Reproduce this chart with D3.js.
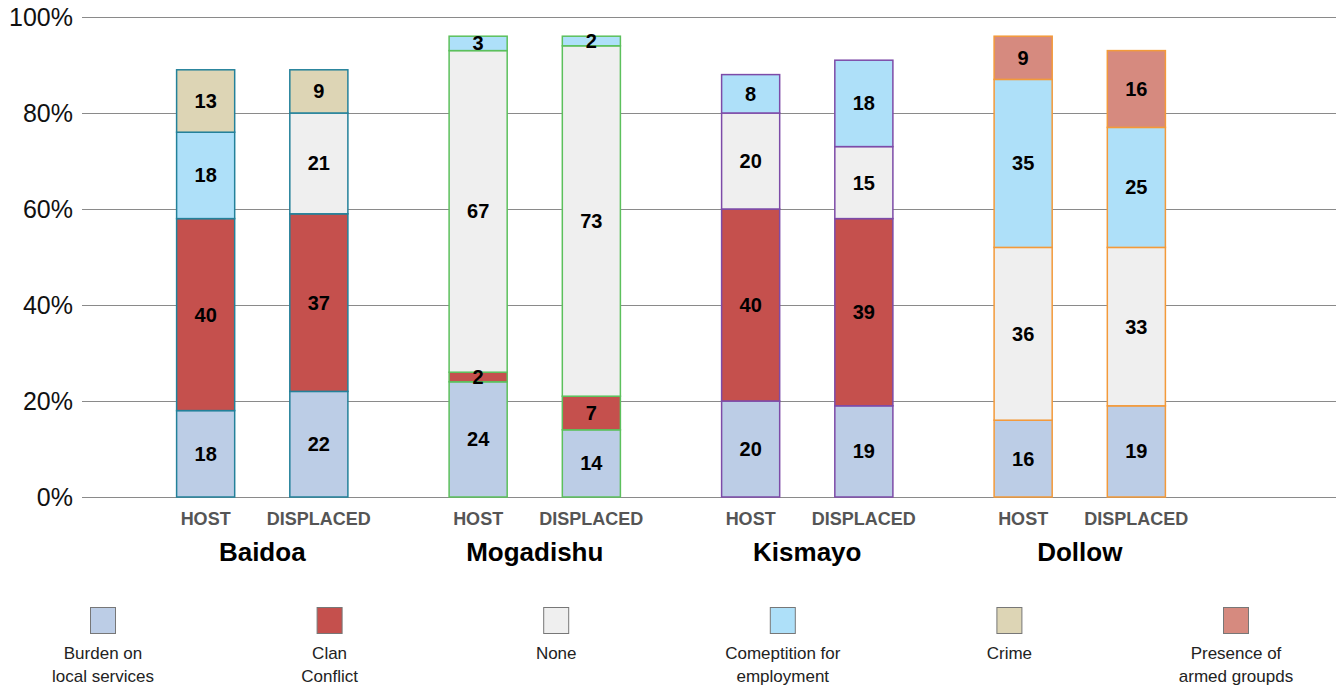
<!DOCTYPE html>
<html>
<head>
<meta charset="utf-8">
<script src="https://cdn.jsdelivr.net/npm/d3@7"></script>
<style>
body { margin: 0; background: #fff; }
text { font-family: "Liberation Sans", Arial, sans-serif; }
</style>
</head>
<body>
<div id="chart"></div>
<script>
const width = 1336;
const height = 686;

const cities = ["Baidoa", "Mogadishu", "Kismayo", "Dollow"];
const groups = ["HOST", "DISPLACED"];
const causes = ["burden", "clan", "none", "competition", "crime", "armed"];
const legendLabels = [
    ["Burden on", "local services"],
    ["Clan", "Conflict"],
    ["None"],
    ["Comeptition for", "employment"],
    ["Crime"],
    ["Presence of", "armed groupds"]
];
const yTicks = [0, 20, 40, 60, 80, 100];

// one value per bar: Baidoa host, Baidoa displaced, Mogadishu host, ...
const burden      = [18, 22, 24, 14, 20, 19, 16, 19];
const clan        = [40, 37,  2,  7, 40, 39,  0,  0];
const none        = [ 0, 21, 67, 73, 20, 15, 36, 33];
const competition = [18,  0,  3,  2,  8, 18, 35, 25];
const crime       = [13,  9,  0,  0,  0,  0,  0,  0];
const armed       = [ 0,  0,  0,  0,  0,  0,  9, 16];

const causeColor = {
    burden: "#bccde6",
    clan: "#c5504d",
    none: "#efefef",
    competition: "#aee0f9",
    crime: "#ddd5b5",
    armed: "#d68a7f"
};
const cityStroke = {
    Baidoa: "#23819a",
    Mogadishu: "#5cc05c",
    Kismayo: "#7d4ba8",
    Dollow: "#f39a3a"
};

const rows = [];
cities.forEach((c, i) => {
    groups.forEach((g, j) => {
        const k = i * 2 + j;
        rows.push({
            city: c, group: g,
            burden: burden[k], clan: clan[k], none: none[k],
            competition: competition[k], crime: crime[k], armed: armed[k]
        });
    });
});

const svg = d3.select("#chart")
    .append("svg")
    .attr("width", width)
    .attr("height", height);

const x0 = d3.scaleBand()
    .domain(cities)
    .range([126, 1216]);

const x1 = d3.scaleBand()
    .domain(groups)
    .range([0, x0.bandwidth()])
    .paddingInner(0.487)
    .paddingOuter(0.447);

const y = d3.scaleLinear()
    .domain([0, 100])
    .range([497, 17]);

// gridlines + tick labels
const axis = svg.append("g")
    .attr("transform", "translate(82,0)")
    .call(d3.axisLeft(y)
        .tickValues(yTicks)
        .tickSize(-(width - 82))
        .tickPadding(9)
        .tickFormat(d => d + "%"));
axis.select(".domain").remove();
axis.selectAll(".tick line").attr("stroke", "#8a8a8a").attr("stroke-width", 1.2);
axis.selectAll(".tick text")
    .attr("font-size", "25px")
    .attr("fill", "#111")
    .style("font-family", "'Liberation Sans', Arial, sans-serif");

const series = d3.stack().keys(causes)(rows);

const layer = svg.append("g");
series.forEach(s => {
    const key = s.key;
    s.forEach((seg, i) => {
        const r = rows[i];
        if (seg[1] - seg[0] <= 0) return;
        const bx = x0(r.city) + x1(r.group);
        layer.append("rect")
            .attr("x", bx)
            .attr("y", y(seg[1]))
            .attr("width", x1.bandwidth())
            .attr("height", y(seg[0]) - y(seg[1]))
            .attr("fill", causeColor[key])
            .attr("stroke", cityStroke[r.city])
            .attr("stroke-width", 1.5);
    });
});

series.forEach(s => {
    s.forEach((seg, i) => {
        const r = rows[i];
        const v = seg[1] - seg[0];
        if (v <= 0) return;
        svg.append("text")
            .attr("x", x0(r.city) + x1(r.group) + x1.bandwidth() / 2)
            .attr("y", y((seg[0] + seg[1]) / 2))
            .attr("dy", "0.35em")
            .attr("text-anchor", "middle")
            .attr("font-size", "20px")
            .attr("font-weight", "bold")
            .attr("fill", "#000")
            .text(v);
    });
});

// category labels
rows.forEach(r => {
    svg.append("text")
        .attr("x", x0(r.city) + x1(r.group) + x1.bandwidth() / 2)
        .attr("y", 519)
        .attr("dy", "0.35em")
        .attr("text-anchor", "middle")
        .attr("font-size", "18px")
        .attr("font-weight", "bold")
        .attr("fill", "#555")
        .text(r.group);
});

cities.forEach(c => {
    svg.append("text")
        .attr("x", x0(c) + x0.bandwidth() / 2)
        .attr("y", 552)
        .attr("dy", "0.35em")
        .attr("text-anchor", "middle")
        .attr("font-size", "26px")
        .attr("font-weight", "bold")
        .attr("fill", "#000")
        .text(c);
});

// legend
const lx = d3.scalePoint()
    .domain(causes)
    .range([103, 1236]);

const legend = svg.append("g");
causes.forEach((k, i) => {
    const cx = lx(k);
    legend.append("rect")
        .attr("x", cx - 12.5)
        .attr("y", 607.5)
        .attr("width", 25)
        .attr("height", 26)
        .attr("fill", causeColor[k])
        .attr("stroke", "#777")
        .attr("stroke-width", 1);
    legendLabels[i].forEach((line, j) => {
        legend.append("text")
            .attr("x", cx)
            .attr("y", 653 + j * 23)
            .attr("dy", "0.35em")
            .attr("text-anchor", "middle")
            .attr("font-size", "17px")
            .attr("fill", "#222")
            .text(line);
    });
});
</script>
</body>
</html>
